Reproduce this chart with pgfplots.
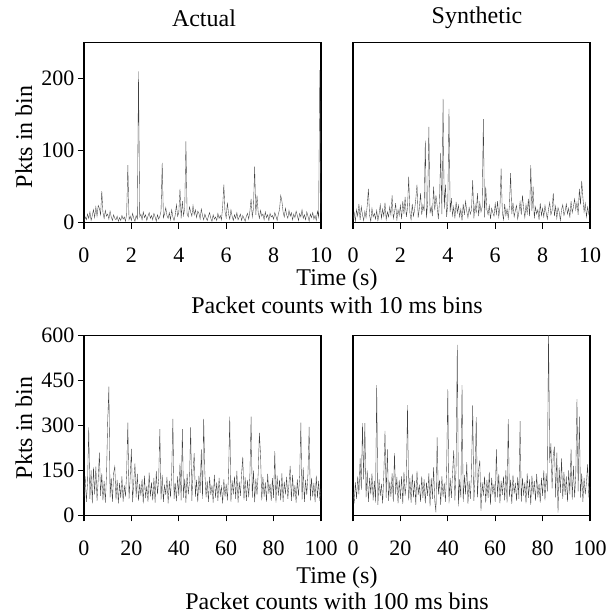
\documentclass[border=0pt]{standalone}
\usepackage{fontspec}
\setmainfont{Liberation Serif}
\usepackage{pgfplots}
\usepackage{pgfplotstable}
\pgfplotsset{compat=1.18}

% Actual, 10 ms bins (sampled every 0.05 s)
\pgfplotstableread[row sep=\\]{
y\\
2\\ 8\\ 4\\ 12\\ 6\\ 15\\ 3\\ 10\\ 18\\ 7\\ 22\\ 9\\ 24\\ 20\\ 11\\ 44\\ 14\\ 6\\ 17\\ 9\\
12\\ 5\\ 16\\ 8\\ 3\\ 11\\ 6\\ 4\\ 9\\ 2\\ 7\\ 3\\ 10\\ 5\\ 8\\ 2\\ 12\\ 80\\ 4\\ 9\\
3\\ 13\\ 6\\ 2\\ 10\\ 5\\ 210\\ 8\\ 12\\ 4\\ 15\\ 7\\ 11\\ 3\\ 9\\ 14\\ 6\\ 10\\ 4\\ 13\\
8\\ 2\\ 11\\ 5\\ 9\\ 16\\ 83\\ 7\\ 12\\ 21\\ 10\\ 6\\ 14\\ 4\\ 18\\ 8\\ 3\\ 11\\ 25\\ 9\\
14\\ 47\\ 6\\ 30\\ 10\\ 20\\ 113\\ 12\\ 8\\ 22\\ 15\\ 9\\ 24\\ 11\\ 18\\ 7\\ 16\\ 13\\ 5\\ 19\\
10\\ 4\\ 12\\ 7\\ 3\\ 9\\ 14\\ 6\\ 2\\ 11\\ 5\\ 8\\ 3\\ 13\\ 6\\ 10\\ 4\\ 22\\ 53\\ 15\\
7\\ 28\\ 12\\ 5\\ 18\\ 9\\ 3\\ 11\\ 6\\ 14\\ 4\\ 8\\ 12\\ 3\\ 10\\ 6\\ 2\\ 9\\ 13\\ 5\\
16\\ 33\\ 8\\ 20\\ 78\\ 11\\ 38\\ 14\\ 6\\ 17\\ 9\\ 12\\ 4\\ 15\\ 7\\ 11\\ 3\\ 13\\ 8\\ 10\\
5\\ 14\\ 9\\ 3\\ 12\\ 18\\ 38\\ 30\\ 15\\ 8\\ 20\\ 11\\ 6\\ 17\\ 9\\ 14\\ 4\\ 12\\ 7\\ 16\\
10\\ 3\\ 13\\ 8\\ 18\\ 6\\ 11\\ 4\\ 15\\ 9\\ 2\\ 12\\ 7\\ 14\\ 5\\ 10\\ 3\\ 16\\ 8\\ 212\\
14\\
}\topactual

% Synthetic, 10 ms bins (sampled every 0.05 s)
\pgfplotstableread[row sep=\\]{
y\\
5\\ 14\\ 2\\ 18\\ 9\\ 26\\ 4\\ 22\\ 11\\ 3\\ 16\\ 7\\ 24\\ 47\\ 10\\ 2\\ 20\\ 8\\ 13\\ 5\\
17\\ 3\\ 12\\ 25\\ 6\\ 19\\ 9\\ 28\\ 4\\ 15\\ 8\\ 22\\ 11\\ 38\\ 6\\ 14\\ 27\\ 3\\ 18\\ 10\\
24\\ 5\\ 30\\ 12\\ 36\\ 8\\ 21\\ 64\\ 14\\ 4\\ 26\\ 9\\ 18\\ 33\\ 53\\ 7\\ 20\\ 41\\ 11\\ 25\\
16\\ 114\\ 6\\ 28\\ 133\\ 13\\ 22\\ 9\\ 50\\ 17\\ 38\\ 24\\ 5\\ 30\\ 97\\ 12\\ 172\\ 19\\ 53\\ 8\\
27\\ 158\\ 15\\ 34\\ 10\\ 22\\ 6\\ 29\\ 14\\ 24\\ 8\\ 19\\ 3\\ 26\\ 11\\ 30\\ 16\\ 7\\ 21\\ 12\\
18\\ 59\\ 6\\ 25\\ 13\\ 41\\ 9\\ 28\\ 15\\ 22\\ 144\\ 7\\ 50\\ 18\\ 11\\ 24\\ 5\\ 20\\ 14\\ 9\\
27\\ 12\\ 30\\ 8\\ 21\\ 75\\ 15\\ 4\\ 26\\ 10\\ 19\\ 6\\ 23\\ 69\\ 12\\ 28\\ 8\\ 17\\ 24\\ 5\\
15\\ 29\\ 11\\ 38\\ 20\\ 7\\ 25\\ 13\\ 33\\ 9\\ 80\\ 16\\ 50\\ 6\\ 22\\ 12\\ 18\\ 4\\ 27\\ 10\\
20\\ 8\\ 24\\ 14\\ 5\\ 19\\ 28\\ 11\\ 17\\ 41\\ 9\\ 23\\ 6\\ 21\\ 15\\ 3\\ 18\\ 25\\ 10\\ 16\\
26\\ 12\\ 20\\ 7\\ 30\\ 14\\ 22\\ 33\\ 18\\ 28\\ 11\\ 47\\ 25\\ 58\\ 35\\ 15\\ 27\\ 8\\ 22\\ 12\\
20\\
}\topsynth

% Actual, 100 ms bins (sampled every 0.5 s)
\pgfplotstableread[row sep=\\]{
y\\
60\\ 130\\ 45\\ 110\\ 293\\ 55\\ 150\\ 40\\ 160\\ 70\\ 162\\ 48\\ 120\\ 209\\ 65\\ 140\\ 50\\ 115\\ 42\\ 135\\
315\\ 429\\ 60\\ 125\\ 45\\ 140\\ 163\\ 52\\ 118\\ 40\\ 108\\ 58\\ 130\\ 46\\ 100\\ 62\\ 145\\ 309\\ 55\\ 128\\
221\\ 44\\ 112\\ 173\\ 60\\ 138\\ 48\\ 105\\ 66\\ 120\\ 40\\ 132\\ 57\\ 98\\ 45\\ 142\\ 63\\ 110\\ 50\\ 125\\
42\\ 148\\ 70\\ 118\\ 287\\ 52\\ 135\\ 45\\ 102\\ 68\\ 128\\ 40\\ 115\\ 60\\ 140\\ 321\\ 55\\ 108\\ 47\\ 130\\
65\\ 173\\ 50\\ 287\\ 58\\ 122\\ 42\\ 138\\ 70\\ 112\\ 293\\ 48\\ 145\\ 207\\ 62\\ 118\\ 44\\ 132\\ 75\\ 220\\
55\\ 321\\ 140\\ 60\\ 115\\ 45\\ 128\\ 68\\ 100\\ 42\\ 135\\ 58\\ 110\\ 48\\ 125\\ 66\\ 95\\ 40\\ 120\\ 62\\
105\\ 50\\ 138\\ 329\\ 45\\ 116\\ 70\\ 130\\ 55\\ 148\\ 42\\ 112\\ 65\\ 140\\ 195\\ 52\\ 126\\ 48\\ 118\\ 60\\
135\\ 329\\ 58\\ 150\\ 44\\ 122\\ 68\\ 140\\ 275\\ 201\\ 50\\ 128\\ 62\\ 110\\ 45\\ 138\\ 72\\ 105\\ 48\\ 124\\
58\\ 214\\ 42\\ 132\\ 66\\ 118\\ 50\\ 140\\ 45\\ 112\\ 70\\ 128\\ 55\\ 106\\ 165\\ 48\\ 135\\ 60\\ 100\\ 42\\
120\\ 64\\ 130\\ 309\\ 52\\ 160\\ 45\\ 118\\ 68\\ 138\\ 295\\ 50\\ 125\\ 62\\ 108\\ 44\\ 132\\ 58\\ 115\\ 48\\
90\\
}\botactual

% Synthetic, 100 ms bins (sampled every 0.5 s)
\pgfplotstableread[row sep=\\]{
y\\
80\\ 40\\ 110\\ 55\\ 130\\ 70\\ 190\\ 85\\ 307\\ 120\\ 307\\ 60\\ 150\\ 45\\ 125\\ 70\\ 140\\ 50\\ 115\\ 42\\
434\\ 35\\ 120\\ 65\\ 105\\ 40\\ 135\\ 281\\ 58\\ 220\\ 48\\ 112\\ 62\\ 140\\ 45\\ 207\\ 70\\ 128\\ 40\\ 118\\
55\\ 130\\ 38\\ 145\\ 66\\ 110\\ 367\\ 50\\ 125\\ 42\\ 138\\ 60\\ 115\\ 35\\ 148\\ 68\\ 102\\ 45\\ 130\\ 58\\
120\\ 40\\ 110\\ 65\\ 140\\ 30\\ 125\\ 55\\ 160\\ 48\\ 10\\ 260\\ 70\\ 118\\ 35\\ 130\\ 62\\ 108\\ 45\\ 150\\
420\\ 40\\ 125\\ 58\\ 140\\ 217\\ 50\\ 165\\ 568\\ 30\\ 120\\ 60\\ 434\\ 45\\ 135\\ 70\\ 177\\ 38\\ 115\\ 55\\
140\\ 367\\ 48\\ 125\\ 327\\ 60\\ 150\\ 183\\ 15\\ 110\\ 66\\ 130\\ 42\\ 118\\ 58\\ 145\\ 35\\ 125\\ 70\\ 105\\
45\\ 220\\ 60\\ 138\\ 40\\ 115\\ 68\\ 130\\ 50\\ 150\\ 42\\ 321\\ 62\\ 118\\ 38\\ 135\\ 72\\ 108\\ 48\\ 128\\
55\\ 314\\ 45\\ 125\\ 66\\ 110\\ 40\\ 140\\ 58\\ 120\\ 35\\ 132\\ 70\\ 115\\ 48\\ 138\\ 60\\ 105\\ 42\\ 125\\
65\\ 150\\ 50\\ 140\\ 80\\ 620\\ 175\\ 240\\ 90\\ 200\\ 229\\ 60\\ 209\\ 9\\ 160\\ 75\\ 190\\ 55\\ 145\\ 68\\
130\\ 45\\ 150\\ 70\\ 221\\ 52\\ 165\\ 60\\ 135\\ 387\\ 80\\ 329\\ 58\\ 140\\ 45\\ 125\\ 70\\ 110\\ 170\\ 60\\
95\\
}\botsynth

\pgfplotsset{
  panel/.style={
    scale only axis, width=237pt, height=180pt, anchor=south west,
    axis line style={line width=1.2pt},
    every tick/.style={line width=1.2pt, black},
    tick align=outside, major tick length=6pt,
    xtick pos=bottom, ytick pos=left,
    ticklabel style={font=\fontsize{22}{26}\selectfont},
    xticklabel style={yshift=-16pt},
    /pgf/number format/assume math mode=true,
    /pgf/number format/1000 sep={},
  },
  series/.style={black!75, line width=0.35pt, mark=none},
}

\begin{document}
\begin{tikzpicture}[x=1pt,y=1pt]
\useasboundingbox (0pt,0pt) rectangle (609pt,613pt);
\begin{axis}[panel, at={(84pt,390.3pt)}, xmin=0, xmax=10, ymin=0, ymax=250,
  xtick={0,2,...,10}, ytick={0,100,200}]
  \addplot[series] table[x expr=\coordindex*0.05, y=y] {\topactual};
\end{axis}
\begin{axis}[panel, at={(353pt,390.3pt)}, xmin=0, xmax=10, ymin=0, ymax=250,
  xtick={0,2,...,10}, ytick=\empty]
  \addplot[series] table[x expr=\coordindex*0.05, y=y] {\topsynth};
\end{axis}
\begin{axis}[panel, at={(84pt,97.7pt)}, xmin=0, xmax=100, ymin=0, ymax=600,
  xtick={0,20,...,100}, ytick={0,150,300,450,600}]
  \addplot[series] table[x expr=\coordindex*0.5, y=y] {\botactual};
\end{axis}
\begin{axis}[panel, at={(353pt,97.7pt)}, xmin=0, xmax=100, ymin=0, ymax=600,
  xtick={0,20,...,100}, ytick=\empty]
  \addplot[series] table[x expr=\coordindex*0.5, y=y] {\botsynth};
\end{axis}
\begin{scope}[every node/.style={font=\fontsize{24}{28}\selectfont, inner sep=0pt}]
\node at (204pt,595pt) {Actual};
\node at (477pt,595pt) {Synthetic};
\node[rotate=90] at (24pt,476pt) {Pkts in bin};
\node[rotate=90] at (24pt,185pt) {Pkts in bin};
\node at (337pt,333pt) {Time (s)};
\node at (337pt,308pt) {Packet counts with 10 ms bins};
\node at (337pt,35pt) {Time (s)};
\node at (337pt,12pt) {Packet counts with 100 ms bins};
\end{scope}
\end{tikzpicture}
\end{document}
